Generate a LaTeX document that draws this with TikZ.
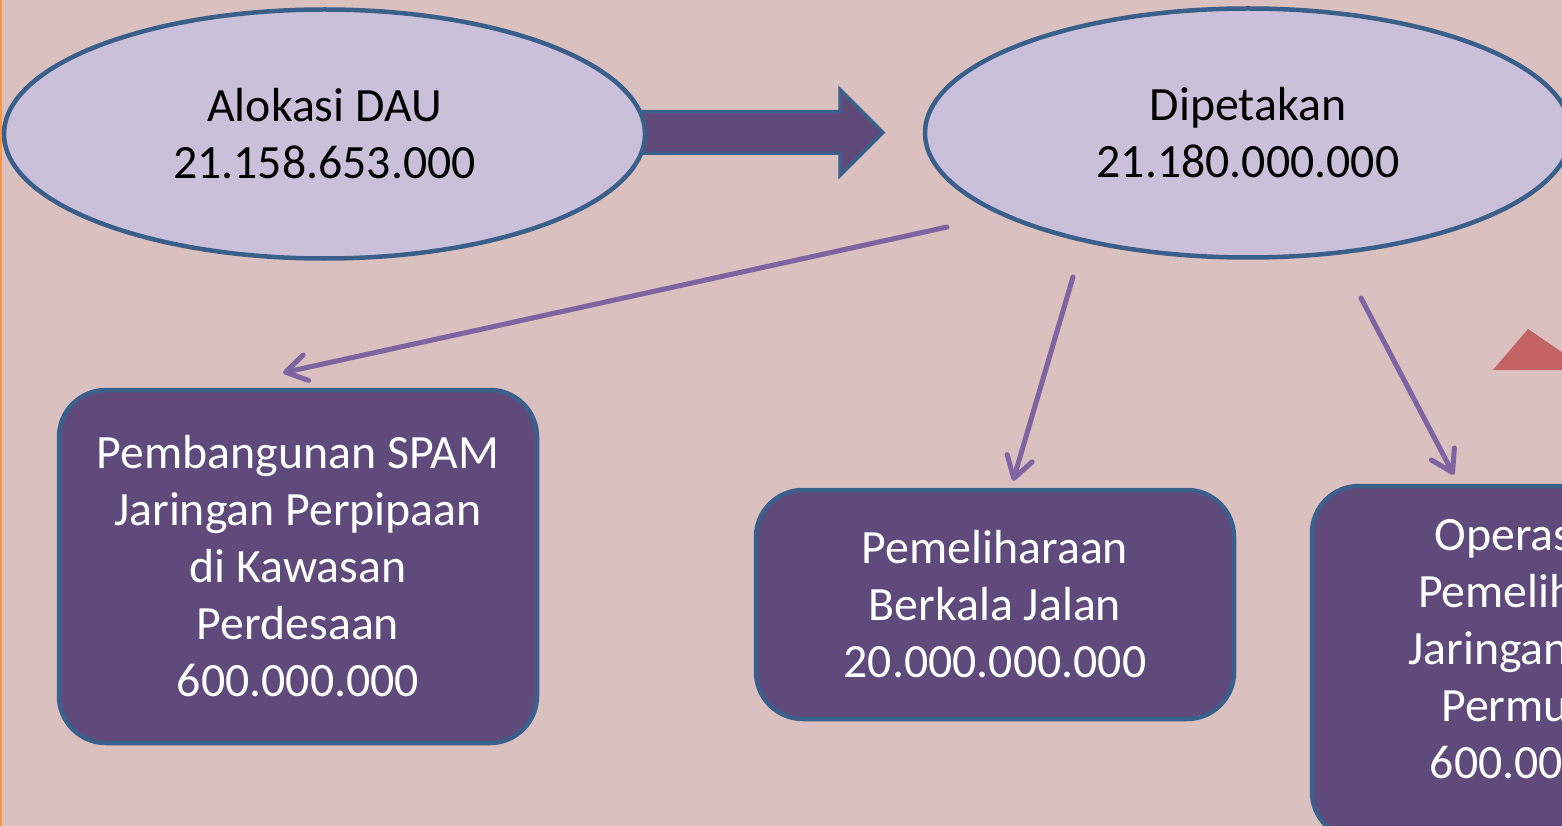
\documentclass[tikz,border=0pt]{standalone}
\usepackage{fontspec}
\setmainfont{Carlito}
\usepackage{tikz}
\usetikzlibrary{arrows.meta,shapes.geometric,shapes.arrows,positioning}
\definecolor{slidebg}{RGB}{219,192,192}
\definecolor{ovalfill}{RGB}{203,192,218}
\definecolor{edgeblue}{RGB}{58,95,139}
\definecolor{boxfill}{RGB}{96,74,123}
\definecolor{linkpurple}{RGB}{128,100,162}
\definecolor{markred}{RGB}{196,99,99}
\definecolor{sideorange}{RGB}{247,150,70}
\newcommand{\bigtext}{\fontsize{47.8}{57}\selectfont}
\tikzset{
        oval/.style = {draw=edgeblue, fill=ovalfill, ellipse,
            line width=4.5pt, inner sep=0pt,
            minimum height=249pt, align=center, font=\bigtext},
        block/.style = {draw=edgeblue, fill=boxfill, rectangle,
            rounded corners=47pt, line width=4.5pt,
            minimum width=478pt, text=white, align=center, font=\bigtext},
        blocktext/.style = {text=white, align=center, font=\bigtext, inner sep=0pt},
        link/.style = {draw=linkpurple, line width=5pt, line cap=round,
            -{Straight Barb[length=21pt,width=26pt,round]},
            preaction={draw=black, opacity=0.12, transform canvas={shift={(1.5pt,-2pt)}}}},
        bigarrow/.style = {draw=edgeblue, fill=boxfill, single arrow,
            line width=3.5pt, inner xsep=0pt, inner ysep=19pt,
            minimum height=245pt,
            single arrow head extend=22pt, single arrow tip angle=90},
    }

\begin{document}
\begin{tikzpicture}[x=1pt,y=1pt,yscale=-1,xscale=1]
    \useasboundingbox (0,0) rectangle (1562,826);
    \fill[slidebg] (0,0) rectangle (1562,826);
    \draw[sideorange, line width=1.5pt] (0.75,0) -- (0.75,826);

    %red corner mark
    \fill[markred] (1493,370) -- (1528,329) -- (1588,370) -- cycle;

    %flow arrow (behind the ovals)
    \node[bigarrow] (flow) at (750,132.5) {};

    %ovals
    \node[oval, minimum width=641pt] (dau) at (324.5,134) {Alokasi DAU\\21.158.653.000};
    \node[oval, minimum width=646pt] (peta) at (1248,133) {Dipetakan\\21.180.000.000};

    %boxes
    \node[block, minimum height=353pt] (spam) at (298,566.5)
        {Pembangunan SPAM\\Jaringan Perpipaan\\di Kawasan\\Perdesaan\\600.000.000};
    \node[block, minimum height=229pt] (jalan) at (995,604.5)
        {Pemeliharaan\\Berkala Jalan\\20.000.000.000};
    \node[block, minimum height=353pt] (irigasi) at (1551,662.5) {};
    \node[blocktext] (irigasitext) at (1551,648)
        {Operasi dan\\Pemeliharaan\\Jaringan Irigasi\\Permukaan\\600.000.000};

    %links
    \coordinate (s1) at (947,227);
    \coordinate (s2) at (1073,277);
    \coordinate (s3) at (1361,298);
    \draw[link] (s1) -- ([xshift=-15pt,yshift=-15pt]spam.north);
    \draw[link] (s2) -- ([xshift=18pt,yshift=-7pt]jalan.north);
    \draw[link] (s3) -- ([xshift=144pt,yshift=-9pt]irigasi.north west);
\end{tikzpicture}
\end{document}
